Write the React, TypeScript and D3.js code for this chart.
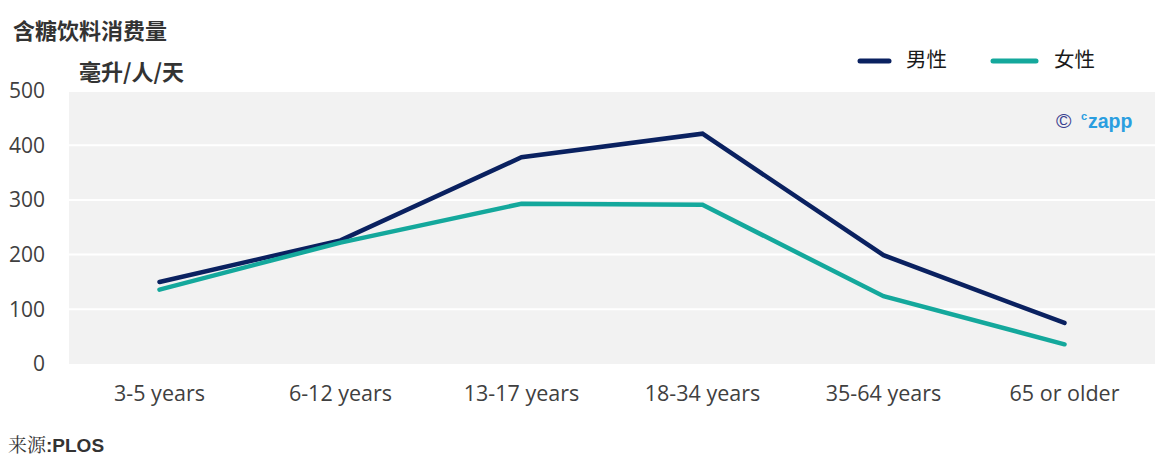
import React from "react";
import * as d3 from "d3";

const categories = ["3-5 years", "6-12 years", "13-17 years", "18-34 years", "35-64 years", "65 or older"];
const maleValues = [150, 226, 378, 421, 199, 75];
const femaleValues = [136, 222, 293, 291, 124, 36];
const yTicks = [0, 100, 200, 300, 400, 500];
const seriesNames = ["男性", "女性"];

const W = 1155;
const H = 471;
const plotLeft = 69;
const plotRight = 1155;
const plotTop = 92;
const plotBottom = 364;

const MALE = "#0a2160";
const FEMALE = "#14a89c";

export default function App() {
  const x = d3.scaleBand<string>().domain(categories).range([plotLeft, plotRight]);
  const y = d3.scaleLinear().domain([0, 500]).range([plotBottom, 90.5]);
  const cx = (c: string) => (x(c) as number) + x.bandwidth() / 2;
  const line = d3
    .line<number>()
    .x((_, i) => cx(categories[i]))
    .y((v) => y(v));

  const sans = "'Open Sans', 'Noto Sans', sans-serif";
  const cjk = "'Noto Sans CJK SC', sans-serif";
  const arial = "'Liberation Sans', Arial, sans-serif";

  return (
    <svg width={W} height={H} style={{ display: "block", position: "absolute", left: 0, top: 0 }}>
      <rect x={0} y={0} width={W} height={H} fill="#ffffff" />
      <rect x={plotLeft} y={plotTop} width={plotRight - plotLeft} height={plotBottom - plotTop} fill="#f2f2f2" />
      {yTicks.slice(1, -1).map((t) => (
        <line key={t} x1={plotLeft} x2={plotRight} y1={y(t)} y2={y(t)} stroke="#ffffff" strokeWidth={2} />
      ))}
      {yTicks.map((t) => (
        <text key={t} x={45} y={y(t)} dy="0.35em" textAnchor="end" fontFamily={sans} fontSize={21} fill="#404040">
          {t}
        </text>
      ))}
      {categories.map((c) => (
        <text key={c} x={cx(c)} y={401} textAnchor="middle" fontFamily={sans} fontSize={21.5} fill="#404040">
          {c}
        </text>
      ))}
      <path d={line(maleValues) || ""} fill="none" stroke={MALE} strokeWidth={4.5} strokeLinejoin="miter" strokeLinecap="round" />
      <path d={line(femaleValues) || ""} fill="none" stroke={FEMALE} strokeWidth={4.5} strokeLinejoin="miter" strokeLinecap="round" />

      <text x={13} y={39} fontFamily={cjk} fontWeight="bold" fontSize={22} fill="#333333">含糖饮料消费量</text>
      <text x={79} y={80} fontFamily={cjk} fontWeight="bold" fontSize={22} fill="#333333">毫升/人/天</text>

      <line x1={860} x2={889} y1={61} y2={61} stroke={MALE} strokeWidth={5} strokeLinecap="round" />
      <text x={906} y={67} fontFamily={cjk} fontSize={20.5} fill="#1a1a1a">{seriesNames[0]}</text>
      <line x1={993} x2={1036} y1={61} y2={61} stroke={FEMALE} strokeWidth={5} strokeLinecap="round" />
      <text x={1054} y={67} fontFamily={cjk} fontSize={20.5} fill="#1a1a1a">{seriesNames[1]}</text>

      <text x={1056} y={128} fontFamily={arial} fontSize={21} fill="#3a3f8f">©</text>
      <text x={1081} y={120} fontFamily={arial} fontSize={11} fontWeight="bold" fill="#2a9ee0">c</text>
      <text x={1088} y={128} fontFamily={arial} fontSize={19.5} fontWeight="bold" fill="#2a9ee0">zapp</text>

      <text x={8} y={452} fontSize={19} fill="#333333">
        <tspan fontFamily="'Noto Serif CJK SC', 'Noto Sans CJK SC', serif">来源</tspan>
        <tspan fontFamily={arial} fontWeight="bold">:PLOS</tspan>
      </text>
    </svg>
  );
}
